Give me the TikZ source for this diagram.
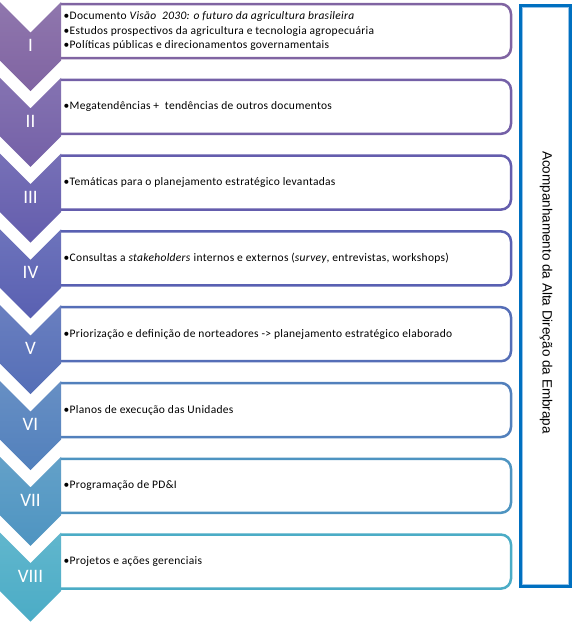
\documentclass[tikz,border=0pt]{standalone}
\usepackage{fontspec}
\setmainfont{Carlito}
\newfontfamily\arialf{Liberation Sans}
\newfontfamily\boxfont[LetterSpace=2.6]{Carlito}
\definecolor{c1}{RGB}{128,100,162}
\definecolor{c2}{RGB}{116,96,167}
\definecolor{c3}{RGB}{100,93,173}
\definecolor{c4}{RGB}{89,96,178}
\definecolor{c5}{RGB}{85,110,183}
\definecolor{c6}{RGB}{82,128,188}
\definecolor{c7}{RGB}{78,148,193}
\definecolor{c8}{RGB}{75,172,198}
\definecolor{embblue}{RGB}{0,112,192}
\definecolor{embblueinner}{RGB}{150,195,232}
\begin{document}
\begin{tikzpicture}[x=1pt,y=-1pt,
  boxline/.style={line width=2.5pt, rounded corners=10pt},
  numtext/.style={text=white, font=\fontsize{19}{22}\selectfont, inner sep=0pt},
  steptext/.style={anchor=west, align=left, inner sep=0pt, font=\boxfont\fontsize{11.5}{14.3}\selectfont, text=black},
  sidetext/.style={rotate=-90, font=\arialf\fontsize{13.5}{16}\selectfont, inner sep=0pt}]
\useasboundingbox (0,0) rectangle (582,624);
\fill[white] (0,0) rectangle (582,624);
\foreach \k/\r/\txt in {
  1/I/{\textbullet Documento \textit{Visão\ \ 2030: o futuro da agricultura brasileira}\\\textbullet Estudos prospectivos da agricultura e tecnologia agropecuária\\\textbullet Políticas públicas e direcionamentos governamentais},
  2/II/{\textbullet Megatendências +\ \ tendências de outros documentos},
  3/III/{\textbullet Temáticas para o planejamento estratégico levantadas},
  4/IV/{\textbullet Consultas a \textit{stakeholders} internos e externos (\textit{survey}, entrevistas, workshops)},
  5/V/{\textbullet Priorização e definição de norteadores -> planejamento estratégico elaborado},
  6/VI/{\textbullet Planos de execução das Unidades},
  7/VII/{\textbullet Programação de PD\&I},
  8/VIII/{\textbullet Projetos e ações gerenciais}} {
  \pgfmathsetmacro\T{75.8*(\k-1)+2}
  \pgfmathsetmacro\B{\T+2}
  \draw[boxline, draw=c\k] (61,\B) -- (511,\B) -- (511,\B+54) -- (61,\B+54);
  \shade[top color=c\k!88!white, bottom color=c\k]
    (0,\T) -- (30.5,\T+30.5) -- (61,\T) -- (61,\T+58.5) -- (30.5,\T+89) -- (0,\T+58.5) -- cycle;
  \node[numtext] (n\k) at (30.5,\T+43.5) {\r};
  \node[steptext] (t\k) at (63.5,\B+27) {\txt};
}
\draw[line width=3pt, draw=embblue] (520.5,5.5) rectangle (570.5,586.5);
\draw[line width=0.8pt, draw=embblueinner] (522.4,7.4) rectangle (568.6,584.6);
\node[sidetext] (side) at (546,292.5) {Acompanhamento da Alta Direção da Embrapa};
\end{tikzpicture}
\end{document}
